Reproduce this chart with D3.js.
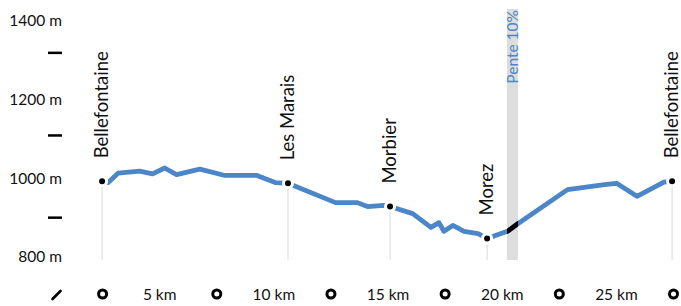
<!DOCTYPE html>
<html>
<head>
<meta charset="utf-8">
<script src="https://cdn.jsdelivr.net/npm/d3@7"></script>
<style>
    body { margin: 0; background: #fff; }
    text { font-family: Lato, "Noto Sans", sans-serif; fill: #111; }
</style>
</head>
<body>
<div id="chart"></div>
<script>
// route profile: distance (km on the axis) and elevation (m)
var distances  = [2.5, 2.77, 3.21, 4.14, 4.71, 5.24, 5.76, 6.78, 7.88, 9.28, 10.08, 10.64, 12.72, 13.68, 14.12, 14.83, 15.11, 16.1, 16.9, 17.25, 17.47, 17.86, 18.35, 18.96, 19.36, 20.28, 20.72, 22.88, 24.5, 25.03, 25.92, 27.1, 27.46];
var elevations = [991, 988, 1012, 1017, 1010, 1025, 1008, 1022, 1006, 1006, 988, 986, 937, 937, 927, 930, 927, 909, 874, 886, 864, 879, 864, 858, 846, 865, 884, 970, 983, 986, 953, 989, 991];

var placeNames = ["Bellefontaine", "Les Marais", "Morbier", "Morez", "Bellefontaine"];
var placeKm    = [2.5, 10.64, 15.11, 19.36, 27.46];
var placeElev  = [991, 986, 927, 846, 991];

var slopeLabel = "Pente 10%";
var slopeFrom  = 20.23;
var slopeTo    = 20.71;

var xTickValues = [0, 2.5, 5, 7.5, 10, 12.5, 15, 17.5, 20, 22.5, 25, 27.5];
var xTickLabels = ["/", "o", "5 km", "o", "10 km", "o", "15 km", "o", "20 km", "o", "25 km", "o"];

var yTickValues = [800, 900, 1000, 1109, 1200, 1319, 1400];
var yTickLabels = ["800 m", "", "1000 m", "", "1200 m", "", "1400 m"];

var width  = 681;
var height = 306;
var plotTop = 9;
var plotBottom = 260;

var svg = d3.select('#chart').append('svg')
    .attr('width', width)
    .attr('height', height);

var x = d3.scaleLinear().domain([0, 27.5]).range([45, 673]);
var y = d3.scaleLinear().domain([800, 1400]).range([256.5, 20.5]);

var profile = distances.map(function(d, i) { return {km: d, elev: elevations[i]}; });
var places = placeNames.map(function(n, i) { return {name: n, km: placeKm[i], elev: placeElev[i]}; });

// slope band
svg.append('rect')
    .attr('x', x(slopeFrom))
    .attr('y', plotTop)
    .attr('width', x(slopeTo) - x(slopeFrom))
    .attr('height', plotBottom - plotTop)
    .attr('fill', '#dcdddc');

svg.append('text')
    .attr('transform', 'translate(' + (x((slopeFrom + slopeTo) / 2) + 5.5) + ',' + (plotTop + 1) + ') rotate(-90)')
    .attr('text-anchor', 'end')
    .attr('font-size', 15.5)
    .style('fill', '#4a86c8')
    .text(slopeLabel);

// drop lines under the places
svg.selectAll('.drop')
    .data(places)
    .enter()
    .append('line')
    .attr('class', 'drop')
    .attr('x1', function(d) { return x(d.km); })
    .attr('x2', function(d) { return x(d.km); })
    .attr('y1', function(d) { return y(d.elev); })
    .attr('y2', plotBottom)
    .attr('stroke', '#d9d9d9')
    .attr('stroke-width', 1);

var valueline = d3.line()
    .x(function(d) { return x(d.km); })
    .y(function(d) { return y(d.elev); });

svg.append('path')
    .datum(profile)
    .attr('d', valueline)
    .attr('fill', 'none')
    .attr('stroke', '#4a86c8')
    .attr('stroke-width', 4.8)
    .attr('stroke-linejoin', 'round');

// steep part drawn black inside the band
svg.append('clipPath')
    .attr('id', 'slope-clip')
    .append('rect')
    .attr('x', x(slopeFrom))
    .attr('y', plotTop)
    .attr('width', x(slopeTo) - x(slopeFrom))
    .attr('height', plotBottom - plotTop);

svg.append('path')
    .datum(profile)
    .attr('d', valueline)
    .attr('clip-path', 'url(#slope-clip)')
    .attr('fill', 'none')
    .attr('stroke', '#000')
    .attr('stroke-width', 4.8);

svg.selectAll('.dot')
    .data(places)
    .enter()
    .append('circle')
    .attr('class', 'dot')
    .attr('cx', function(d) { return x(d.km); })
    .attr('cy', function(d) { return y(d.elev); })
    .attr('r', 4.5)
    .attr('fill', '#000')
    .attr('stroke', '#fff')
    .attr('stroke-width', 3);

svg.selectAll('.place')
    .data(places)
    .enter()
    .append('text')
    .attr('class', 'place')
    .attr('transform', function(d) {
        return 'translate(' + (x(d.km) + 6) + ',' + (y(d.elev) - 23) + ') rotate(-90)';
    })
    .attr('font-size', 18.5)
    .text(function(d) { return d.name; });

// y axis
var yAxis = svg.append('g')
    .attr('transform', 'translate(62,0)')
    .call(d3.axisLeft(y).tickValues(yTickValues).tickSize(0)
        .tickFormat(function(d, i) { return yTickLabels[i]; }));
yAxis.select('.domain').remove();
yAxis.selectAll('text')
    .attr('x', 0)
    .attr('dy', '0.35em')
    .attr('font-size', 15.5)
    .style('font-family', 'Lato, "Noto Sans", sans-serif')
    .style('fill', '#111');
yAxis.selectAll('.tick')
    .filter(function(d, i) { return yTickLabels[i] === ''; })
    .append('line')
    .attr('x1', -14)
    .attr('x2', 0)
    .attr('stroke', '#000')
    .attr('stroke-width', 2.5);

// x axis
var xAxis = svg.append('g')
    .attr('transform', 'translate(0,284)')
    .call(d3.axisBottom(x).tickValues(xTickValues).tickSize(0)
        .tickFormat(function(d, i) { return (xTickLabels[i] === 'o' || xTickLabels[i] === '/') ? '' : xTickLabels[i]; }));
xAxis.select('.domain').remove();
xAxis.selectAll('text')
    .attr('y', 5)
    .attr('font-size', 15.5)
    .style('font-family', 'Lato, "Noto Sans", sans-serif')
    .style('fill', '#111');
xAxis.selectAll('.tick')
    .filter(function(d, i) { return xTickLabels[i] === 'o'; })
    .append('circle')
    .attr('cy', 10)
    .attr('r', 4)
    .attr('fill', 'none')
    .attr('stroke', '#000')
    .attr('stroke-width', 3);
xAxis.selectAll('.tick')
    .filter(function(d, i) { return xTickLabels[i] === '/'; })
    .append('line')
    .attr('x1', 7)
    .attr('y1', 15)
    .attr('x2', 15)
    .attr('y2', 7)
    .attr('stroke', '#000')
    .attr('stroke-width', 2.6)
    .attr('stroke-linecap', 'round');
</script>
</body>
</html>
